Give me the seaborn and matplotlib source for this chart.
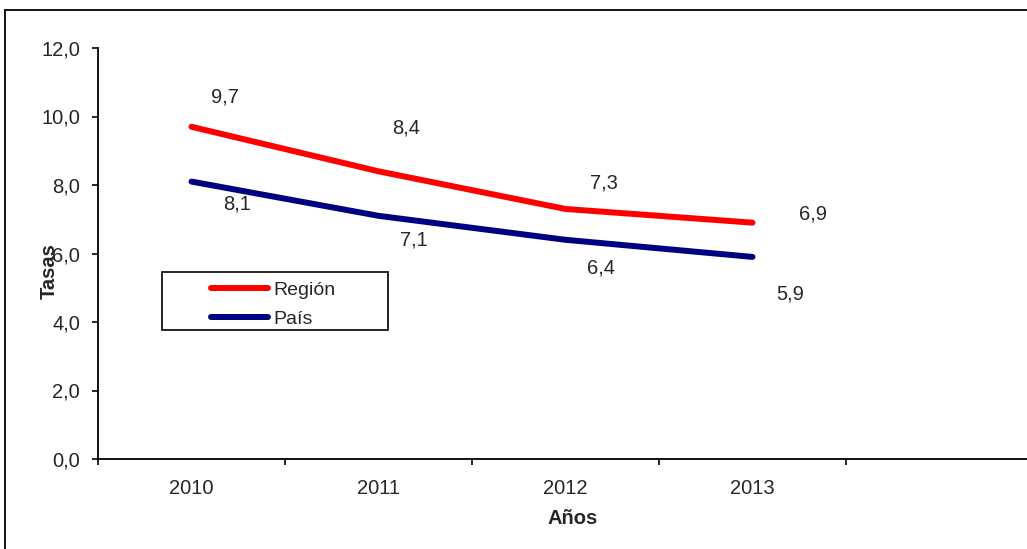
import matplotlib
matplotlib.use("Agg")
import matplotlib.pyplot as plt
import pandas as pd
import seaborn as sns
from matplotlib.lines import Line2D
from matplotlib.patches import Rectangle

# datos del grafico
anios = ["2010", "2011", "2012", "2013"]
region = [9.7, 8.4, 7.3, 6.9]
pais = [8.1, 7.1, 6.4, 5.9]
series = ["Región", "País"]

# desplazamiento de las etiquetas (pixeles) respecto al punto
off_region = [(33, 30), (28, 43), (38, 26), (60, 9)]
off_pais = [(46, -22), (35, -24), (35, -28), (38, -37)]

df = pd.DataFrame({
    "x": list(range(len(anios))) * 2,
    "valor": region + pais,
    "serie": [series[0]] * len(anios) + [series[1]] * len(anios),
})

sns.set_style("ticks")
plt.rcParams["font.family"] = ["Liberation Sans", "DejaVu Sans"]
fs = 14.5

fig = plt.figure(figsize=(10.27, 5.49), dpi=100)
ax = fig.add_axes([98 / 1027, 90 / 549, 935 / 1027, 411 / 549])

sns.lineplot(data=df, x="x", y="valor", hue="serie",
             palette={"Región": "#ff0000", "País": "#000080"},
             linewidth=4.3, ax=ax, legend=False)

ax.set_xlim(-0.5, 4.5)
ax.set_ylim(0, 12)
ax.set_yticks([0, 2, 4, 6, 8, 10, 12])
ax.set_yticklabels([f"{v:.1f}".replace(".", ",") for v in range(0, 13, 2)])
ax.set_xticks([-0.5, 0.5, 1.5, 2.5, 3.5])
ax.set_xticklabels([])
ax.set_xticks(range(len(anios)), minor=True)
ax.set_xticklabels(anios, minor=True)
ax.tick_params(axis="both", which="major", direction="out", length=4,
               width=1.2, color="black", labelsize=fs, pad=9)
ax.tick_params(axis="x", which="minor", length=0, labelsize=fs, pad=14.5)

for s in ["top", "right"]:
    ax.spines[s].set_visible(False)
for s in ["left", "bottom"]:
    ax.spines[s].set_linewidth(1.3)
    ax.spines[s].set_color("black")

ax.set_xlabel("")
ax.set_ylabel("")
fig.text(573 / 1027, 1 - 519 / 549, "Años", ha="center", va="center",
         fontsize=fs, fontweight="bold")
fig.text(49.5 / 1027, 1 - 271 / 549, "Tasas", ha="center", va="center",
         fontsize=fs, fontweight="bold", rotation=90)

# etiquetas de datos
for i, v in enumerate(region):
    ax.annotate(f"{v:.1f}".replace(".", ","), (i, v), xytext=off_region[i],
                textcoords="offset pixels", ha="center", va="center", fontsize=fs)
for i, v in enumerate(pais):
    ax.annotate(f"{v:.1f}".replace(".", ","), (i, v), xytext=off_pais[i],
                textcoords="offset pixels", ha="center", va="center", fontsize=fs)

# leyenda con marco propio
fig.add_artist(Rectangle((162 / 1027, 1 - 330 / 549), 226 / 1027, 58 / 549,
                         transform=fig.transFigure, fill=False,
                         edgecolor="black", lw=1.2))
handles = [Line2D([], [], color="#ff0000", lw=4.3, solid_capstyle="round"),
           Line2D([], [], color="#000080", lw=4.3, solid_capstyle="round")]
fig.legend(handles, series, loc="upper left",
           bbox_to_anchor=(211 / 1027, 1 - 281 / 549),
           fontsize=fs - 0.5, frameon=False,
           handlelength=2.95, handletextpad=0.25, borderpad=0,
           labelspacing=0.6, borderaxespad=0)

# marco exterior
fig.add_artist(Line2D([5 / 1027, 1], [1 - 10 / 549, 1 - 10 / 549],
                      color="black", lw=1.3, transform=fig.transFigure))
fig.add_artist(Line2D([5 / 1027, 5 / 1027], [0, 1 - 10 / 549],
                      color="black", lw=1.3, transform=fig.transFigure))

fig.savefig("out.png", dpi=100)
